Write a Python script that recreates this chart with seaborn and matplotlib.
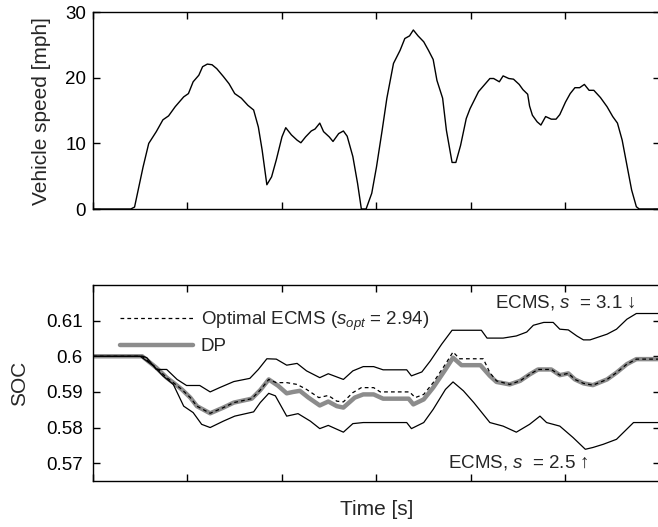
import matplotlib
matplotlib.use("Agg")
import matplotlib.pyplot as plt
import seaborn as sns
import pandas as pd

# drive cycle speed [mph]
speed_t = [0, 40, 44, 53, 59, 67, 74, 80, 87, 96, 101, 106, 112, 116, 121, 126, 131, 138, 144, 150,
           157, 164, 170, 175, 179, 184, 189, 194, 200, 204, 210, 216, 220, 225, 231, 235, 240, 244, 250, 254,
           260, 265, 269, 275, 280, 284, 289, 295, 300, 306, 311, 318, 325, 330, 335, 339, 344, 350, 355, 360,
           364, 370, 374, 380, 384, 389, 395, 399, 408, 414, 420, 424, 430, 434, 440, 445, 451, 455, 460, 462,
           465, 470, 474, 479, 485, 490, 494, 500, 505, 510, 515, 520, 525, 530, 537, 544, 550, 555, 560, 565,
           570, 575, 578, 600]
speed_v = [0, 0, 0.3, 6.4, 10.0, 11.8, 13.6, 14.2, 15.6, 17.1, 17.6, 19.4, 20.4, 21.7, 22.1, 22.0, 21.4, 20.2, 19.1, 17.6,
           16.9, 15.8, 15.1, 12.5, 9.0, 3.7, 4.9, 7.5, 11.0, 12.4, 11.3, 10.5, 10.1, 11.0, 11.9, 12.2, 13.1, 11.8, 11.0, 10.3,
           11.5, 11.9, 11.1, 8.0, 3.9, 0.0, 0.0, 2.4, 6.4, 12.0, 16.9, 22.2, 24.2, 26.0, 26.4, 27.3, 26.4, 25.5, 24.2, 22.8,
           19.6, 16.9, 12.0, 7.1, 7.1, 9.7, 13.8, 15.3, 17.9, 18.9, 19.9, 19.9, 19.4, 20.3, 19.9, 19.8, 19.0, 18.2, 17.5, 15.7,
           14.3, 13.3, 12.8, 14.1, 13.7, 13.7, 14.4, 16.3, 17.6, 18.5, 18.5, 19.0, 18.1, 18.1, 17.0, 15.6, 14.1, 13.1, 10.5, 6.7,
           2.9, 0.35, 0, 0]

# SOC, ECMS s = 3.1
hi_t = [0, 53, 57, 67, 78, 89, 99, 113, 124, 134, 149, 166, 175, 184, 194, 205, 216, 226, 240, 249,
        265, 275, 286, 297, 307, 332, 337, 348, 357, 369, 380, 392, 411, 417, 434, 448, 459, 466, 477, 487,
        494, 503, 512, 519, 526, 544, 554, 565, 575, 600]
hi_v = [0.600, 0.600, 0.5996, 0.5963, 0.5963, 0.5935, 0.5918, 0.5918, 0.5900, 0.5912,
        0.5929, 0.5938, 0.5963, 0.5993, 0.5992, 0.5975, 0.5980, 0.5959, 0.5940, 0.5951,
        0.5935, 0.5959, 0.5971, 0.5971, 0.5962, 0.5962, 0.5945, 0.5956, 0.5987, 0.6034,
        0.6073, 0.6073, 0.6073, 0.6051, 0.6051, 0.6057, 0.6068, 0.6087, 0.6095, 0.6095,
        0.6076, 0.6074, 0.6057, 0.6046, 0.6046, 0.6062, 0.6076, 0.6104, 0.6120, 0.6120]

# SOC, ECMS s = 2.5
lo_t = [0, 50, 64, 74, 85, 96, 106, 115, 124, 138, 150, 170, 177, 186, 193, 205, 217, 230, 240, 249,
        265, 275, 286, 300, 332, 337, 350, 360, 373, 381, 392, 403, 420, 434, 448, 462, 473, 480, 494, 508,
        521, 529, 540, 554, 572, 600]
lo_v = [0.600, 0.600, 0.5973, 0.5945, 0.5921, 0.5860, 0.5842, 0.5809, 0.5800, 0.5818,
        0.5832, 0.5844, 0.5870, 0.5896, 0.5889, 0.5832, 0.5839, 0.5818, 0.5797, 0.5806,
        0.5787, 0.5811, 0.5814, 0.5814, 0.5814, 0.5797, 0.5814, 0.5851, 0.5907, 0.5928,
        0.5903, 0.5870, 0.5814, 0.5804, 0.5787, 0.5809, 0.5832, 0.5814, 0.5804, 0.5772,
        0.5739, 0.5744, 0.5753, 0.5767, 0.5814, 0.5814]

# SOC, dynamic programming
dp_t = [0, 52, 67, 78, 85, 94, 103, 110, 124, 138, 149, 168, 177, 186, 196, 205, 212, 219, 228, 240,
        249, 258, 265, 277, 286, 297, 307, 334, 339, 350, 360, 373, 381, 390, 410, 420, 427, 441, 452, 462,
        471, 485, 494, 503, 510, 519, 529, 544, 554, 565, 575, 600]
dp_v = [0.600, 0.600, 0.5968, 0.5940, 0.5926, 0.5907, 0.5884, 0.5860, 0.5840, 0.5856,
        0.5870, 0.5881, 0.5905, 0.5935, 0.5917, 0.5896, 0.5900, 0.5903, 0.5884, 0.5862,
        0.5873, 0.5860, 0.5856, 0.5884, 0.5893, 0.5893, 0.5881, 0.5881, 0.5865, 0.5879,
        0.5912, 0.5963, 0.5996, 0.5975, 0.5975, 0.5945, 0.5928, 0.5921, 0.5931, 0.5949,
        0.5963, 0.5963, 0.5947, 0.5952, 0.5935, 0.5924, 0.5919, 0.5935, 0.5954, 0.5978,
        0.5992, 0.5992]

# SOC, optimal ECMS s_opt = 2.94
opt_t = [0, 52, 67, 78, 85, 94, 103, 110, 124, 138, 149, 168, 177, 186, 194, 205, 216, 226, 239, 249,
         258, 265, 275, 284, 297, 304, 335, 341, 350, 360, 373, 381, 388, 413, 420, 427, 441, 452, 462, 471,
         485, 494, 503, 510, 519, 529, 544, 554, 565, 575, 600]
opt_v = [0.600, 0.600, 0.5968, 0.5940, 0.5926, 0.5907, 0.5884, 0.5860, 0.5840, 0.5856,
         0.5870, 0.5881, 0.5905, 0.5935, 0.5926, 0.5926, 0.5921, 0.5907, 0.5884, 0.5890,
         0.5874, 0.5872, 0.5898, 0.5912, 0.5912, 0.5900, 0.5900, 0.5884, 0.5893, 0.5926,
         0.5978, 0.6012, 0.5993, 0.5993, 0.5954, 0.5931, 0.5921, 0.5931, 0.5949, 0.5963,
         0.5963, 0.5947, 0.5952, 0.5935, 0.5924, 0.5919, 0.5935, 0.5954, 0.5978, 0.5992,
         0.5992]

x_ticks = [0, 100, 200, 300, 400, 500, 600]
speed_ticks = [0, 10, 20, 30]
speed_ticklabels = ['0', '10', '20', '30']
soc_ticks = [0.57, 0.58, 0.59, 0.60, 0.61]
soc_ticklabels = ['0.57', '0.58', '0.59', '0.6', '0.61']

sns.set_style("ticks")
plt.rcParams['font.family'] = ['Liberation Sans', 'DejaVu Sans']
plt.rcParams['mathtext.fontset'] = 'custom'
plt.rcParams['mathtext.rm'] = 'Liberation Sans'
plt.rcParams['mathtext.it'] = 'Liberation Sans:italic'
plt.rcParams['axes.linewidth'] = 1.0

fig = plt.figure(figsize=(6.58, 5.27), dpi=100)
ax1 = fig.add_axes([0.1413, 0.6034, 0.8617, 0.3733])
ax2 = fig.add_axes([0.1413, 0.0873, 0.8617, 0.3719])

speed = pd.DataFrame({'t': speed_t, 'v': speed_v})
sns.lineplot(data=speed, x='t', y='v', ax=ax1, color='black', linewidth=1.0, estimator=None, sort=False)

sns.lineplot(x=dp_t, y=dp_v, ax=ax2, color='#8c8c8c', linewidth=3.2, estimator=None, sort=False, label='DP')
sns.lineplot(x=opt_t, y=opt_v, ax=ax2, color='black', linewidth=0.9, linestyle=(0, (3, 2.5)),
             estimator=None, sort=False, label='Optimal ECMS ($s_{opt}$ = 2.94)')
sns.lineplot(x=hi_t, y=hi_v, ax=ax2, color='black', linewidth=0.9, estimator=None, sort=False)
sns.lineplot(x=lo_t, y=lo_v, ax=ax2, color='black', linewidth=0.9, estimator=None, sort=False)

for ax in (ax1, ax2):
    ax.set_xlim(0, 600)
    ax.set_xticks(x_ticks)
    ax.set_xticklabels([])
    ax.tick_params(direction='in', length=5, width=1.0, top=True, right=True, labelsize=13.5, colors='black')
    ax.set_xlabel('')
    for sp in ax.spines.values():
        sp.set_color('black')

ax1.set_ylim(0, 30)
ax1.set_yticks(speed_ticks)
ax1.set_yticklabels(speed_ticklabels)
ax1.tick_params(axis='y', pad=5)
ax1.set_ylabel('Vehicle speed [mph]', fontsize=15)
ax1.yaxis.set_label_coords(-0.074, 0.5)

ax2.set_ylim(0.565, 0.62)
ax2.set_yticks(soc_ticks)
ax2.set_yticklabels(soc_ticklabels)
ax2.tick_params(axis='y', pad=7.5)
ax2.set_ylabel('SOC', fontsize=15)
ax2.yaxis.set_label_coords(-0.113, 0.5)
ax2.set_xlabel('Time [s]', fontsize=15)
ax2.xaxis.set_label_coords(0.5, -0.097)

h, l = ax2.get_legend_handles_labels()
ax2.legend([h[1], h[0]], [l[1], l[0]], loc='upper left', bbox_to_anchor=(0.0476, 0.875),
           frameon=False, fontsize=13.5, handlelength=3.9, handletextpad=0.4,
           labelspacing=0.3, borderpad=0, borderaxespad=0)

ax2.text(425, 0.6152, 'ECMS, $s$  = 3.1 \u2193', fontsize=13.5, va='center', ha='left')
ax2.text(376, 0.5702, 'ECMS, $s$  = 2.5 \u2191', fontsize=13.5, va='center', ha='left')

fig.savefig('out.png', dpi=100)
